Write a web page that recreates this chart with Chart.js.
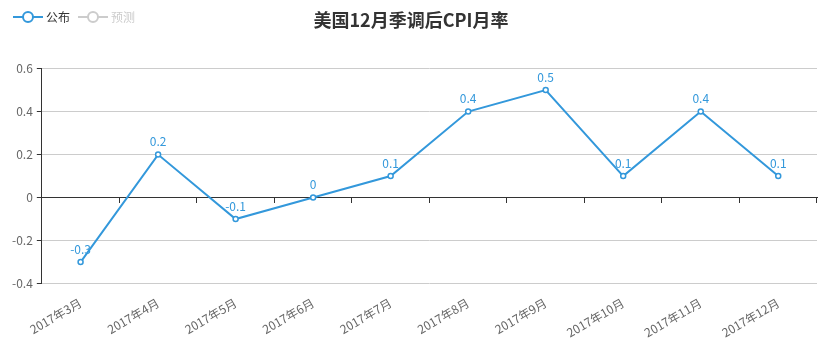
<!DOCTYPE html>
<html><head><meta charset="utf-8">
<script src="https://cdn.jsdelivr.net/npm/chart.js@4.4.1/dist/chart.umd.min.js"></script>
<style>html,body{margin:0;padding:0;background:#fff}</style>
</head><body>
<canvas id="c" width="831" height="341"></canvas>
<script>
const chartTitle = '美国12月季调后CPI月率';
const categories = ['2017年3月','2017年4月','2017年5月','2017年6月','2017年7月','2017年8月','2017年9月','2017年10月','2017年11月','2017年12月'];
const publishedValues = [-0.3, 0.2, -0.1, 0, 0.1, 0.4, 0.5, 0.1, 0.4, 0.1];
const forecastValues = [null, null, null, null, null, null, null, null, null, null];
const seriesNames = ['公布', '预测'];
const yMin = -0.4, yMax = 0.6, yStep = 0.2;

const BLUE = '#3398db';
const GRAY = '#cccccc';
const FONT = '"Noto Sans CJK SC", "Noto Sans", sans-serif';

function legendIcon(color) {
  const c = document.createElement('canvas');
  c.width = 30; c.height = 14;
  const g = c.getContext('2d');
  g.strokeStyle = color; g.lineWidth = 2;
  g.beginPath(); g.moveTo(0, 7); g.lineTo(30, 7); g.stroke();
  g.beginPath(); g.arc(15, 7, 5, 0, Math.PI * 2);
  g.fillStyle = '#fff'; g.fill(); g.stroke();
  return c;
}
const icons = [legendIcon(BLUE), legendIcon(GRAY)];
const legendTextColors = ['#333333', GRAY];

const valueLabels = {
  id: 'valueLabels',
  afterDatasetsDraw(chart) {
    const ctx = chart.ctx;
    const meta = chart.getDatasetMeta(0);
    ctx.save();
    ctx.font = '12px ' + FONT;
    ctx.fillStyle = BLUE;
    ctx.textAlign = 'center';
    ctx.textBaseline = 'bottom';
    meta.data.forEach((pt, i) => {
      ctx.fillText(String(publishedValues[i]), pt.x, pt.y - 7);
    });
    ctx.restore();
  }
};

const legendBesideTitle = {
  id: 'legendBesideTitle',
  afterLayout(chart) {
    const lg = chart.legend;
    if (lg) { const h = lg.height; lg.top = 0; lg.bottom = h; }
  }
};

new Chart(document.getElementById('c'), {
  type: 'line',
  data: {
    labels: categories,
    datasets: [
      { label: seriesNames[0], data: publishedValues, borderColor: BLUE, backgroundColor: BLUE,
        borderWidth: 2, pointRadius: 2.5, pointBackgroundColor: '#fff', pointBorderColor: BLUE,
        pointBorderWidth: 1.5, tension: 0, xAxisID: 'x', yAxisID: 'y' },
      { label: seriesNames[1], data: forecastValues, borderColor: GRAY, backgroundColor: GRAY,
        borderWidth: 2, pointRadius: 0, xAxisID: 'x', yAxisID: 'y' }
    ]
  },
  options: {
    responsive: false,
    animation: false,
    devicePixelRatio: 1,
    layout: { padding: { left: 5, right: 14, top: 0, bottom: -3 } },
    plugins: {
      title: {
        display: true, text: chartTitle, color: '#333',
        font: { family: FONT, size: 18, weight: 'bold' },
        padding: { top: 9, bottom: 5 }
      },
      legend: {
        display: true, position: 'top', align: 'start',
        labels: {
          usePointStyle: true, pointStyleWidth: 24, boxHeight: 12, padding: 11,
          font: { family: FONT, size: 12 },
          generateLabels(chart) {
            return chart.data.datasets.map((ds, i) => ({
              text: ds.label, fillStyle: ds.borderColor, strokeStyle: ds.borderColor,
              lineWidth: 0, pointStyle: icons[i], hidden: false, datasetIndex: i,
              fontColor: legendTextColors[i]
            }));
          }
        }
      },
      tooltip: { enabled: false }
    },
    scales: {
      x: {
        type: 'category', position: 'bottom', offset: true,
        grid: { display: false }, border: { display: false },
        ticks: { color: '#666', font: { family: FONT, size: 12 }, minRotation: 30, maxRotation: 30, autoSkip: false, padding: 4 }
      },
      x0: {
        type: 'category', axis: 'x', labels: categories, position: { y: 0 }, offset: true,
        grid: { display: true, offset: true, drawOnChartArea: false, drawTicks: true, tickLength: 5, tickColor: '#333' },
        border: { display: true, color: '#333', width: 1 },
        ticks: { display: false }
      },
      y: {
        min: yMin, max: yMax,
        afterFit: (s) => { s.width += 3; },
        ticks: { stepSize: yStep, color: '#666', font: { family: FONT, size: 12 }, padding: 4,
          callback: (v) => String(Math.round(v * 10) / 10) },
        grid: {
          color: (c) => (c.tick && Math.abs(c.tick.value) < 1e-9) ? '#333' : '#cccccc',
          tickColor: '#333', tickLength: 5, drawTicks: true
        },
        border: { display: true, color: '#333', width: 1 }
      }
    }
  },
  plugins: [valueLabels, legendBesideTitle]
});
</script>
</body></html>
